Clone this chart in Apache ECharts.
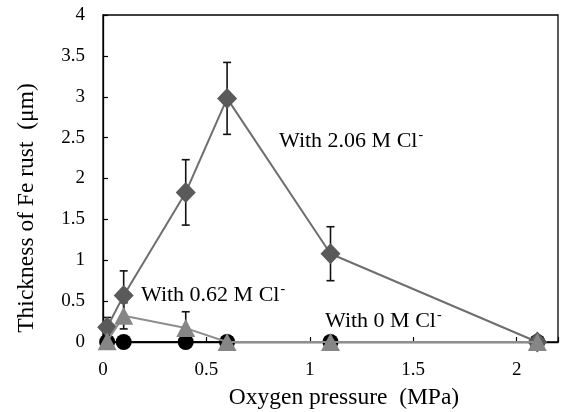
<!DOCTYPE html>
<html>
<head>
<meta charset="utf-8">
<script src="https://cdn.jsdelivr.net/npm/echarts@6/dist/echarts.min.js"></script>
<style>html,body{margin:0;padding:0;background:#fff}#c{width:563px;height:412px}</style>
</head>
<body>
<div id="c"></div>
<script>
// Data
var pressure = [0.02, 0.1, 0.4, 0.6, 1.1, 2.1];
var cl206 = [0.18, 0.57, 1.83, 2.98, 1.08, 0];
var cl206Err = [0.12, 0.30, 0.40, 0.44, 0.33, 0];
var cl062 = [0.01, 0.32, 0.17, 0, 0, 0];
var cl062Err = [0, 0.16, 0.20, 0, 0, 0];
var cl0 = [0, 0, 0, 0, 0, 0];
var xTicks = [0, 0.5, 1, 1.5, 2];
var yTicks = [0, 0.5, 1, 1.5, 2, 2.5, 3, 3.5, 4];
var labels = ['With 2.06 M Cl', 'With 0.62 M Cl', 'With 0 M Cl'];

function pairs(ys) { return pressure.map(function (x, i) { return [x, ys[i]]; }); }
function errs(ys, es) {
  var out = [];
  pressure.forEach(function (x, i) { if (es[i] > 0) out.push([x, ys[i] - es[i], ys[i] + es[i]]); });
  return out;
}
function errRender(params, api) {
  var x = api.value(0);
  var lo = api.coord([x, api.value(1)]);
  var hi = api.coord([x, api.value(2)]);
  var w = 4;
  var st = { stroke: '#111', lineWidth: 1.6 };
  return {
    type: 'group',
    children: [
      { type: 'line', shape: { x1: lo[0], y1: lo[1], x2: hi[0], y2: hi[1] }, style: st },
      { type: 'line', shape: { x1: lo[0] - w, y1: lo[1], x2: lo[0] + w, y2: lo[1] }, style: st },
      { type: 'line', shape: { x1: hi[0] - w, y1: hi[1], x2: hi[0] + w, y2: hi[1] }, style: st }
    ]
  };
}

var font = '"Liberation Serif", "Times New Roman", serif';
var chart = echarts.init(document.getElementById('c'), null, { renderer: 'canvas' });
var rich = {
  a: { fontFamily: font, fontSize: 22, color: '#000' },
  s: { fontFamily: font, fontSize: 14, color: '#000', padding: [0, 0, 12, 1] }
};
chart.setOption({
  animation: false,
  backgroundColor: '#fff',
  grid: { left: 103, right: 5, top: 15, bottom: 70, show: true, borderColor: '#000', borderWidth: 1.3 },
  xAxis: {
    type: 'value', min: 0, max: 2.2, interval: 0.5,
    axisLine: { show: true, onZero: false, lineStyle: { color: '#000', width: 1.3 } },
    axisTick: { show: true, inside: true, length: 5, lineStyle: { color: '#000', width: 1.2 } },
    splitLine: { show: false },
    axisLabel: {
      margin: 19, fontFamily: font, fontSize: 19, color: '#000',
      formatter: function (v) { return xTicks.indexOf(v) >= 0 ? String(v) : ''; }
    }
  },
  yAxis: {
    type: 'value', min: 0, max: 4, interval: 0.5,
    axisLine: { show: true, onZero: false, lineStyle: { color: '#000', width: 1.3 } },
    axisTick: { show: true, inside: true, length: 5, lineStyle: { color: '#000', width: 1.2 } },
    splitLine: { show: false },
    axisLabel: {
      margin: 18, fontFamily: font, fontSize: 19, color: '#000',
      formatter: function (v) { return yTicks.indexOf(v) >= 0 ? String(v) : ''; }
    }
  },
  series: [
    { type: 'custom', name: 'err206', renderItem: errRender, data: errs(cl206, cl206Err), z: 1, clip: false },
    { type: 'custom', name: 'err062', renderItem: errRender, data: errs(cl062, cl062Err), z: 1, clip: false },
    {
      type: 'line', name: '0 M', data: pairs(cl0), symbol: 'circle', symbolSize: 16,
      itemStyle: { color: '#000' }, lineStyle: { color: '#000', width: 1.5 }, z: 2, clip: false
    },
    {
      type: 'line', name: '2.06 M', data: pairs(cl206), symbol: 'diamond', symbolSize: [20, 21],
      itemStyle: { color: '#5a5a5a' }, lineStyle: { color: '#6e6e6e', width: 2 }, z: 3, clip: false
    },
    {
      type: 'line', name: '0.62 M', data: pairs(cl062), symbol: 'triangle', symbolSize: [19, 18],
      itemStyle: { color: '#868686' }, lineStyle: { color: '#8e8e8e', width: 2 }, z: 4, clip: false
    }
  ],
  graphic: [
    { type: 'text', left: 279, top: 128, z: 10, style: { rich: rich, text: '{a|' + labels[0] + '}{s|-}' } },
    { type: 'text', left: 141, top: 282, z: 10, style: { rich: rich, text: '{a|' + labels[1] + '}{s|-}' } },
    { type: 'text', left: 325, top: 308, z: 10, style: { rich: rich, text: '{a|' + labels[2] + '}{s|-}' } },
    {
      type: 'text', x: 344, y: 398, z: 10,
      style: { text: 'Oxygen pressure  (MPa)', font: '23.5px ' + font, fill: '#000', align: 'center', verticalAlign: 'middle' }
    },
    {
      type: 'text', x: 27, y: 208, rotation: Math.PI / 2, z: 10,
      style: { text: 'Thickness of Fe rust  (μm)', font: '23.5px ' + font, fill: '#000', align: 'center', verticalAlign: 'middle' }
    }
  ]
});
</script>
</body>
</html>
